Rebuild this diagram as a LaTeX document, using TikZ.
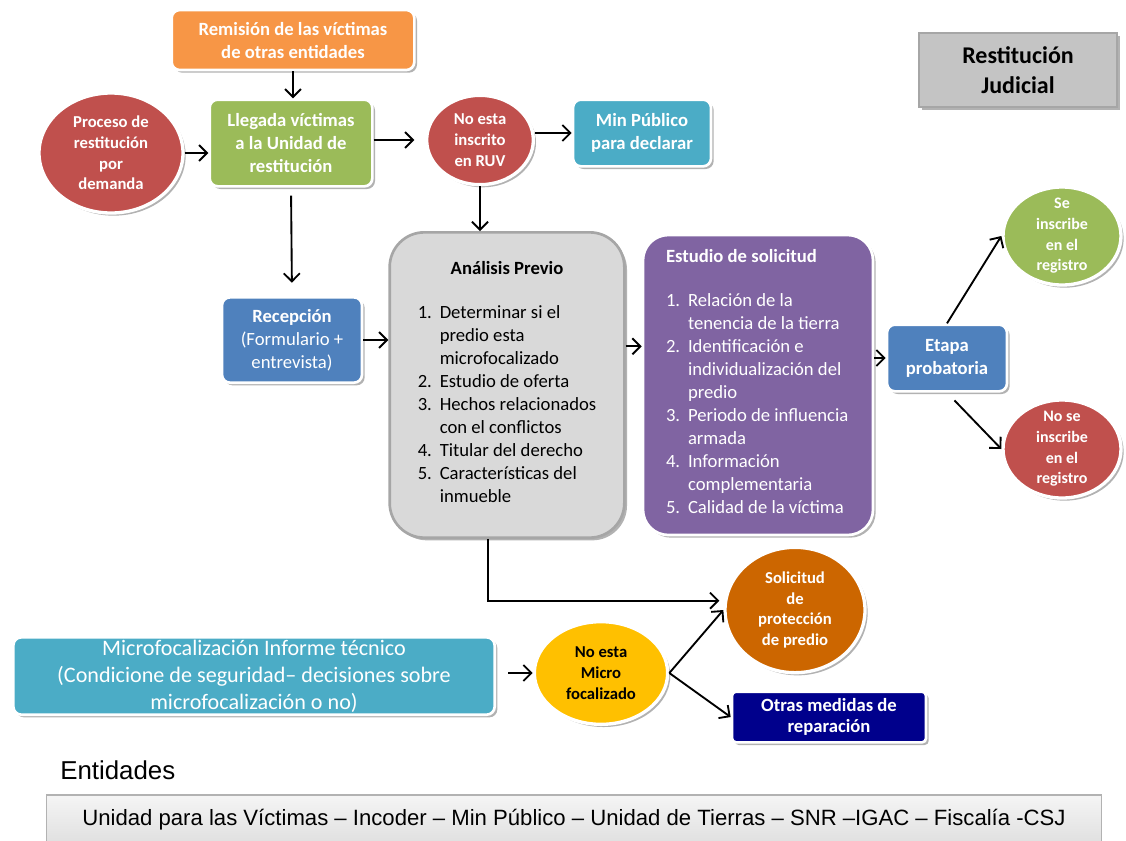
\documentclass[tikz,border=0pt]{standalone}
\usepackage{fontspec}
\setmainfont{Carlito}
\newfontfamily\arialfont{Liberation Sans}
\usepackage{tikz}
\usetikzlibrary{shapes.geometric,shadows,arrows.meta,calc,positioning}

\definecolor{naranja}{HTML}{F79646}
\definecolor{verde}{HTML}{9BBB59}
\definecolor{rojo}{HTML}{C0504D}
\definecolor{turquesa}{HTML}{4BACC6}
\definecolor{azul}{HTML}{4F81BD}
\definecolor{morado}{HTML}{8064A2}
\definecolor{grisclaro}{HTML}{D9D9D9}
\definecolor{grisborde}{HTML}{A6A6A6}
\definecolor{marron}{HTML}{CC6600}
\definecolor{oro}{HTML}{FFC000}
\definecolor{marino}{HTML}{00008C}
\definecolor{grisjud}{HTML}{C4C4C4}

\newcommand{\tam}[2]{\fontsize{#1}{#2}\selectfont}

\tikzset{
  sombra/.style={drop shadow={shadow xshift=2pt,shadow yshift=-2pt,opacity=.3,fill=black}},
  caja/.style={rectangle,rounded corners=6pt,draw=white,line width=2pt,text=white,align=center,inner sep=0pt,font=\bfseries\tam{14}{17.25},sombra},
  circulo/.style={ellipse,draw=white,line width=2.5pt,text=white,align=center,inner sep=-8pt,font=\bfseries\tam{12.5}{15.5},sombra},
  flecha/.style={-{Straight Barb[length=6pt,width=12pt]},line width=1.4pt},
}

\begin{document}
\begin{tikzpicture}[x=0.75pt,y=-0.75pt]
\useasboundingbox (0,0) rectangle (1126,840);

% fila superior
\node[caja,fill=naranja,minimum width=182pt,minimum height=45pt] (remision) at (293,40) {Remisión de las víctimas\\de otras entidades};
\node[caja,fill=verde,minimum width=122pt,minimum height=65pt] (llegada) at (291,143) {Llegada víctimas\\a la Unidad de\\restitución};
\node[circulo,fill=rojo,minimum width=108pt,minimum height=90pt] (proceso) at (111,153) {Proceso de\\restitución\\por\\demanda};
\node[circulo,fill=rojo,minimum width=80pt,minimum height=67pt] (noinscrito) at (480,140) {No esta\\inscrito\\en RUV};
\node[caja,fill=turquesa,minimum width=103.5pt,minimum height=50pt] (minpublico) at (642,133) {Min Público\\para declarar};
\node[rectangle,fill=grisjud,draw=gray!70,line width=1pt,minimum width=148.5pt,minimum height=55.5pt,font=\bfseries\tam{18}{23},align=center,sombra] (judicial) at (1018,70) {Restitución\\Judicial};

% bloque central
\node[caja,fill=azul,minimum width=105pt,minimum height=64pt] (recepcion) at (292,340) {Recepción\\{\mdseries (Formulario +}\\{\mdseries entrevista)}};

\node[rectangle,rounded corners=26pt,fill=grisclaro,draw=grisborde,line width=2pt,minimum width=176pt,minimum height=229pt,inner sep=0pt,sombra] (analisis) at (507,385) {\begin{minipage}{137pt}\tam{14}{17.25}\centering
\textbf{Análisis Previo}\par\vspace{15.75pt}
\begin{tabular}[t]{@{}p{16.5pt}@{}l@{}}
1. & Determinar si el\\
   & predio esta\\
   & microfocalizado\\
2. & Estudio de oferta\\
3. & Hechos relacionados\\
   & con el conflictos\\
4. & Titular del derecho\\
5. & Características del\\
   & inmueble
\end{tabular}\end{minipage}};

\node[rectangle,rounded corners=19pt,fill=morado,draw=white,line width=2pt,text=white,minimum width=172.5pt,minimum height=225pt,inner sep=0pt,sombra] (estudio) at (758,385) {\begin{minipage}{138pt}\tam{14}{17.25}
\textbf{Estudio de solicitud}\par\vspace{16pt}
\begin{tabular}[t]{@{}p{16.5pt}@{}l@{}}
1. & Relación de la\\
   & tenencia de la tierra\\
2. & Identificación e\\
   & individualización del\\
   & predio\\
3. & Periodo de influencia\\
   & armada\\
4. & Información\\
   & complementaria\\
5. & Calidad de la víctima
\end{tabular}\end{minipage}};

\node[caja,fill=azul,minimum width=90pt,minimum height=50pt] (etapa) at (947,358) {Etapa\\probatoria};
\node[circulo,fill=verde,minimum width=88.5pt,minimum height=73.5pt,font=\bfseries\tam{12}{15.5}] (seinscribe) at (1062,236) {Se\\inscribe\\en el\\registro};
\node[circulo,fill=rojo,minimum width=88.5pt,minimum height=73.5pt,font=\bfseries\tam{12}{15.5}] (noseinscribe) at (1062,449) {No se\\inscribe\\en el\\registro};

% fila inferior
\node[circulo,fill=marron,minimum width=105pt,minimum height=94pt] (solicitud) at (795,610) {Solicitud\\de\\protección\\de predio};
\node[circulo,fill=oro,text=black,minimum width=100pt,minimum height=77pt] (nomicro) at (601,673) {No esta\\Micro\\focalizado};
\node[caja,fill=turquesa,minimum width=361pt,minimum height=58pt,font=\tam{16.6}{20.25}] (micro) at (254,676) {Microfocalización Informe técnico\\(Condicione de seguridad– decisiones sobre\\microfocalización o no)};
\node[caja,fill=marino,rounded corners=3pt,minimum width=145.5pt,minimum height=38pt,font=\bfseries\tam{14}{16}] (otras) at (829,717) {Otras medidas de\\reparación};

\node[anchor=west,inner sep=0pt,font=\arialfont\tam{19.4}{22}] (entidades) at (60,770) {Entidades};
\node[rectangle,draw=gray!60,line width=1pt,top color=gray!8,bottom color=gray!25,minimum width=791pt,minimum height=37.5pt,font=\arialfont\tam{16.6}{20}] (barra) at (574,820) {Unidad para las Víctimas – Incoder – Min Público – Unidad de Tierras – SNR –IGAC – Fiscalía -CSJ};

% conectores
\draw[flecha] (proceso.east) -- (proceso.east -| llegada.west);
\draw[flecha] (remision.south) -- (remision.south |- llegada.north);
\draw[flecha,shorten >=8pt] (llegada.east |- noinscrito.west) -- (noinscrito.west);
\draw[flecha] (noinscrito.east |- minpublico.west) -- (minpublico.west);
\draw[flecha] (noinscrito.south) -- (noinscrito.south |- analisis.north);
\draw[flecha,shorten <=6pt,shorten >=10pt] (llegada.south) -- (recepcion.north);
\draw[flecha] (recepcion.east) -- (recepcion.east -| analisis.west);
\draw[flecha] ([yshift=29pt]analisis.east) -- ([yshift=29pt]analisis.east -| estudio.west);
\draw[flecha] (estudio.east |- etapa.west) -- (etapa.west);
\draw[flecha] (etapa.north) -- (seinscribe.west);
\draw[flecha,shorten <=8pt] (etapa.south) -- (noseinscribe.west);
\draw[flecha,shorten >=3pt] ([xshift=-14pt]analisis.south) |- ([yshift=7pt]solicitud.west);
\draw[flecha,shorten <=9pt] (micro.east |- nomicro.west) -- (nomicro.west);
\draw[flecha] (nomicro.east) -- (solicitud.west);
\draw[flecha] (nomicro.east) -- (otras.west);

\end{tikzpicture}
\end{document}
